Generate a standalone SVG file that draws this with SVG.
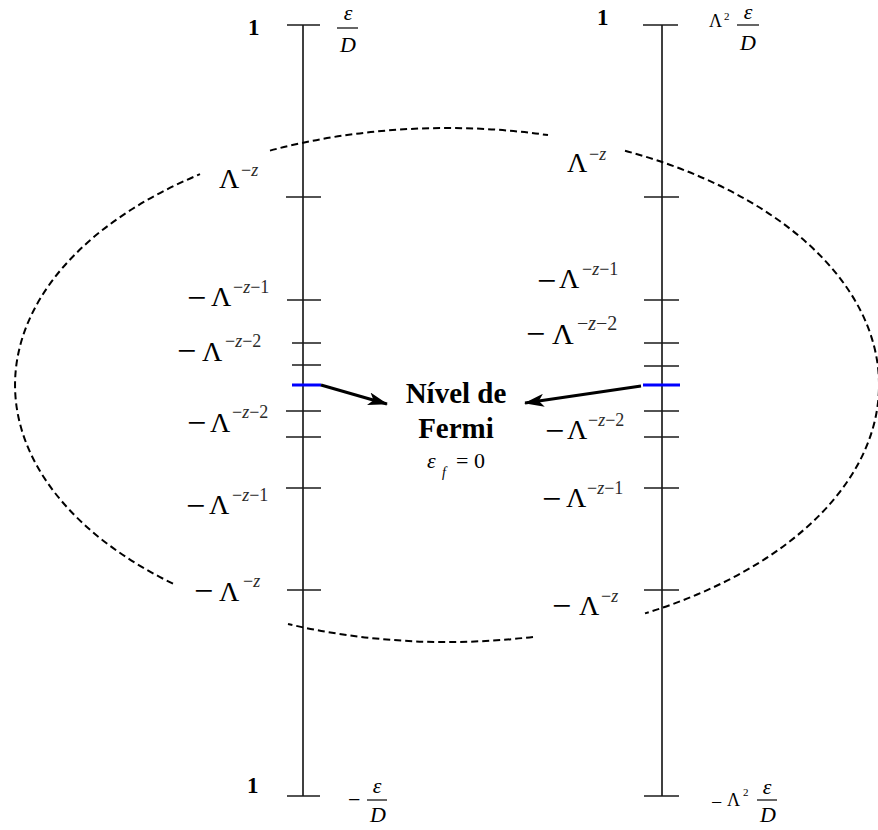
<svg xmlns="http://www.w3.org/2000/svg" width="878" height="830" viewBox="0 0 878 830">
<style>
text{font-family:"Liberation Serif","Times New Roman",serif;fill:#000}
.m{font-size:28px}
.n{font-size:34px}
.s{font-size:18px;fill:#2a2a2a}
.i{font-style:italic}
.b{font-weight:bold}
.f{font-size:22px;font-style:italic}
.axis{stroke:#000;stroke-width:1.5;fill:none}
.tick{stroke:#1a1a1a;stroke-width:1.5}
.blue{stroke:#0000ff;stroke-width:3}
.ell{stroke:#000;stroke-width:2;fill:none;stroke-dasharray:7 4}
.arr{stroke:#000;stroke-width:3;fill:none}
.bar{stroke:#000;stroke-width:1.2}
</style>
<defs>
<marker id="ah" viewBox="0 0 20 13" refX="19" refY="6.5" markerWidth="20" markerHeight="13" markerUnits="userSpaceOnUse" orient="auto">
<path d="M0,0 L20,6.5 L0,13 L5,6.5 z" fill="#000"/>
</marker>
</defs>
<rect width="878" height="830" fill="#fff"/>

<g id="ellipse">
<path class="ell" d="M270,150.6 A432,257 0 0 1 548,135.1"/>
<path class="ell" d="M625,150.8 A432,257 0 0 1 645,613.4"/>
<path class="ell" d="M533,636.9 A432,257 0 0 1 288,624"/>
<path class="ell" d="M173,583.7 A432,257 0 0 1 200,174.2"/>
</g>

<g id="left-axis">
<line class="axis" x1="303" y1="25" x2="303" y2="796"/>
<line class="tick" x1="287" y1="25" x2="320" y2="25"/>
<line class="tick" x1="286" y1="197" x2="321" y2="197"/>
<line class="tick" x1="287" y1="300" x2="321" y2="300"/>
<line class="tick" x1="292" y1="343" x2="321" y2="343"/>
<line class="tick" x1="292" y1="365" x2="321" y2="365"/>
<line class="blue" x1="292" y1="385" x2="321" y2="385"/>
<line class="tick" x1="286" y1="411" x2="321" y2="411"/>
<line class="tick" x1="286" y1="437" x2="321" y2="437"/>
<line class="tick" x1="286" y1="488" x2="321" y2="488"/>
<line class="tick" x1="287" y1="590" x2="321" y2="590"/>
<line class="tick" x1="287" y1="796" x2="320" y2="796"/>
</g>

<g id="right-axis">
<line class="axis" x1="662" y1="25" x2="662" y2="796"/>
<line class="tick" x1="643" y1="25" x2="678" y2="25"/>
<line class="tick" x1="644" y1="197" x2="679" y2="197"/>
<line class="tick" x1="644" y1="300" x2="679" y2="300"/>
<line class="tick" x1="644" y1="343" x2="679" y2="343"/>
<line class="tick" x1="644" y1="366" x2="679" y2="366"/>
<line class="blue" x1="643" y1="385" x2="680" y2="385"/>
<line class="tick" x1="644" y1="411" x2="679" y2="411"/>
<line class="tick" x1="644" y1="437" x2="679" y2="437"/>
<line class="tick" x1="644" y1="488" x2="679" y2="488"/>
<line class="tick" x1="644" y1="590" x2="679" y2="590"/>
<line class="tick" x1="644" y1="796" x2="679" y2="796"/>
</g>

<g id="connectors">
<line class="arr" x1="321" y1="385" x2="387" y2="404" marker-end="url(#ah)"/>
<line class="arr" x1="641" y1="386" x2="525" y2="403" marker-end="url(#ah)"/>
</g>

<g id="left-labels">
<g id="l-top"><text class="b" x="248" y="35" font-size="23">1</text>
<text class="f" x="348" y="20" text-anchor="middle">ε</text>
<line class="bar" x1="337" y1="28" x2="358" y2="28"/>
<text class="f" x="348" y="52" text-anchor="middle">D</text></g>
<g id="l1"><text class="m" x="219" y="188">Λ</text><text class="s" x="241" y="176">−<tspan class="i">z</tspan></text></g>
<g id="l2"><text class="n" x="187" y="309">−</text><text class="m" x="211" y="306">Λ</text><text class="s" x="233" y="293">−<tspan class="i">z</tspan>−1</text></g>
<g id="l3"><text class="n" x="177" y="362">−</text><text class="m" x="202" y="361">Λ</text><text class="s" x="225" y="347">−<tspan class="i">z</tspan>−2</text></g>
<g id="l4"><text class="n" x="187" y="434">−</text><text class="m" x="210" y="432">Λ</text><text class="s" x="232" y="418">−<tspan class="i">z</tspan>−2</text></g>
<g id="l5"><text class="n" x="186" y="517">−</text><text class="m" x="209" y="514">Λ</text><text class="s" x="232" y="501">−<tspan class="i">z</tspan>−1</text></g>
<g id="l6"><text class="n" x="194" y="602">−</text><text class="m" x="219" y="601">Λ</text><text class="s" x="243" y="587">−<tspan class="i">z</tspan></text></g>
<g id="l-bot"><text class="b" x="247" y="793" font-size="23">1</text>
<text x="348" y="807" font-size="22">−</text>
<text class="f" x="377" y="793" text-anchor="middle">ε</text>
<line class="bar" x1="367" y1="800" x2="387" y2="800"/>
<text class="f" x="378" y="822" text-anchor="middle">D</text></g>
</g>

<g id="right-labels">
<g id="r-top"><text class="b" x="597" y="25" font-size="23">1</text>
<text x="709" y="27" font-size="18">Λ</text><text x="724" y="20" font-size="11">2</text>
<text class="f" x="748" y="19" text-anchor="middle">ε</text>
<line class="bar" x1="737" y1="25" x2="759" y2="25"/>
<text class="f" x="748" y="50" text-anchor="middle">D</text></g>
<g id="r1"><text class="m" x="567" y="172">Λ</text><text class="s" x="589" y="160">−<tspan class="i">z</tspan></text></g>
<g id="r2"><text class="n" x="537" y="292">−</text><text class="m" x="559" y="288">Λ</text><text class="s" x="582" y="275">−<tspan class="i">z</tspan>−1</text></g>
<g id="r3"><text class="n" x="526" y="345">−</text><text class="m" x="552" y="344" font-size="30" style="font-size:30px">Λ</text><text class="s" x="577" y="330" style="font-size:20px">−<tspan class="i">z</tspan>−2</text></g>
<g id="r4"><text class="n" x="545" y="442">−</text><text class="m" x="567" y="439">Λ</text><text class="s" x="588" y="426">−<tspan class="i">z</tspan>−2</text></g>
<g id="r5"><text class="n" x="542" y="510">−</text><text class="m" x="566" y="507">Λ</text><text class="s" x="587" y="494">−<tspan class="i">z</tspan>−1</text></g>
<g id="r6"><text class="n" x="552" y="617">−</text><text class="m" x="579" y="615">Λ</text><text class="s" x="601" y="602">−<tspan class="i">z</tspan></text></g>
<g id="r-bot"><text x="711" y="809" font-size="20">−</text>
<text x="727" y="806" font-size="18">Λ</text><text x="743" y="796" font-size="11">2</text>
<text class="f" x="767" y="794" text-anchor="middle">ε</text>
<line class="bar" x1="757" y1="800" x2="777" y2="800"/>
<text class="f" x="768" y="822" text-anchor="middle">D</text></g>
</g>

<g id="fermi">
<text class="b" x="456" y="403" font-size="29" text-anchor="middle">Nível de</text>
<text class="b" x="456" y="438" font-size="29" text-anchor="middle">Fermi</text>
<text class="f" x="427" y="468">ε</text>
<text class="i" x="442" y="477" font-size="14">f</text>
<text x="456" y="468" font-size="22">= 0</text>
</g>
</svg>
